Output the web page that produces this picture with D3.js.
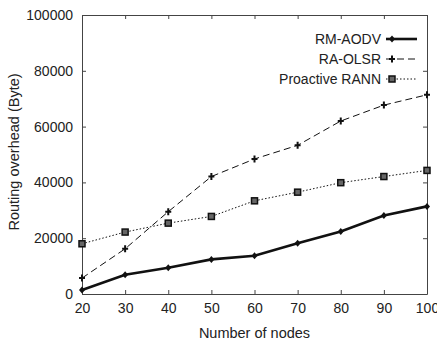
<!DOCTYPE html>
<html>
<head>
<meta charset="utf-8">
<script src="https://cdn.jsdelivr.net/npm/d3@7"></script>
<style>
  body { margin: 0; background: #fff; }
  text { font-family: "Liberation Sans", Arial, sans-serif; fill: #222; }
</style>
</head>
<body>
<svg id="s" width="437" height="344"></svg>
<script>
// Data
const nodes = [20, 30, 40, 50, 60, 70, 80, 90, 100],
  rmAodv = [1400, 6900, 9400, 12400, 13700, 18200, 22400, 28100, 31400],
  raOlsr = [5700, 16200, 29500, 42100, 48400, 53300, 62000, 67700, 71400],
  rann = [18000, 22200, 25400, 27800, 33400, 36500, 39900, 42100, 44300],
  xTicks = [20, 30, 40, 50, 60, 70, 80, 90, 100],
  yTicks = [0, 20000, 40000, 60000, 80000, 100000],
  seriesNames = ["RM-AODV", "RA-OLSR", "Proactive RANN"];

const W = 437, H = 344,
  m = { l: 82, t: 15, r: 10, b: 50 },
  svg = d3.select("#s"),
  x = d3.scaleLinear().domain([20, 100]).range([m.l, W - m.r]),
  y = d3.scaleLinear().domain([0, 100000]).range([H - m.b, m.t]);

const series = [
  { name: seriesNames[0], v: rmAodv, width: 2.6, dash: null, mark: "diamond" },
  { name: seriesNames[1], v: raOlsr, width: 1, dash: "7,4", mark: "plus" },
  { name: seriesNames[2], v: rann, width: 1, dash: "1.5,2", mark: "square" },
];

// axes (ticks inward, box all round)
const ax = "#444";
const gx = svg.append("g").attr("transform", `translate(0,${H - m.b})`)
  .call(d3.axisBottom(x).tickValues(xTicks).tickFormat(d3.format("d")).tickSize(-4).tickPadding(9).tickSizeOuter(0));
const gy = svg.append("g").attr("transform", `translate(${m.l},0)`)
  .call(d3.axisLeft(y).tickValues(yTicks).tickFormat(d3.format("d")).tickSize(-4).tickPadding(9).tickSizeOuter(0));
const gx2 = svg.append("g").attr("transform", `translate(0,${m.t})`)
  .call(d3.axisTop(x).tickValues(xTicks).tickSize(-4).tickFormat("").tickSizeOuter(0));
const gy2 = svg.append("g").attr("transform", `translate(${W - m.r},0)`)
  .call(d3.axisRight(y).tickValues(yTicks).tickSize(-4).tickFormat("").tickSizeOuter(0));
[gx, gy, gx2, gy2].forEach(g => {
  g.selectAll("path,line").attr("stroke", ax).attr("stroke-width", 1);
  g.selectAll("text").style("font-size", "14px").attr("fill", "#222")
    .style("font-family", "'Liberation Sans', Arial, sans-serif");
});

svg.append("text").attr("x", (m.l + W - m.r) / 2).attr("y", 338)
  .attr("text-anchor", "middle").style("font-size", "14.5px").text("Number of nodes");
svg.append("text").attr("transform", "translate(19,152) rotate(-90)")
  .attr("text-anchor", "middle").style("font-size", "14.5px").text("Routing overhead (Byte)");

function marker(g, type, cx, cy) {
  if (type === "diamond") {
    g.append("path").attr("d", `M${cx},${cy - 3.5}L${cx + 3},${cy}L${cx},${cy + 3.5}L${cx - 3},${cy}Z`)
      .attr("fill", "#111");
  } else if (type === "plus") {
    g.append("path").attr("d", `M${cx - 3},${cy}H${cx + 3}M${cx},${cy - 3.5}V${cy + 3.5}`)
      .attr("stroke", "#111").attr("stroke-width", 2);
  } else {
    g.append("rect").attr("x", cx - 3).attr("y", cy - 3).attr("width", 6).attr("height", 6)
      .attr("fill", "#666").attr("stroke", "#111").attr("stroke-width", 1.5);
  }
}

const line = d3.line().x((d, i) => x(nodes[i])).y(d => y(d));
series.forEach(s => {
  svg.append("path").datum(s.v).attr("d", line)
    .attr("fill", "none").attr("stroke", "#111").attr("stroke-width", s.width)
    .attr("stroke-dasharray", s.dash);
  const g = svg.append("g");
  s.v.forEach((v, i) => marker(g, s.mark, x(nodes[i]), y(v)));
});

// legend
series.forEach((s, i) => {
  const ly = 39 + i * 20;
  svg.append("text").attr("x", 381).attr("y", ly).attr("dy", "0.35em")
    .attr("text-anchor", "end").style("font-size", "14px").text(s.name);
  svg.append("line").attr("x1", 386).attr("x2", 417).attr("y1", ly).attr("y2", ly)
    .attr("stroke", "#111").attr("stroke-width", s.width).attr("stroke-dasharray", s.dash);
  marker(svg.append("g"), s.mark, 392, ly);
});
</script>
</body>
</html>
